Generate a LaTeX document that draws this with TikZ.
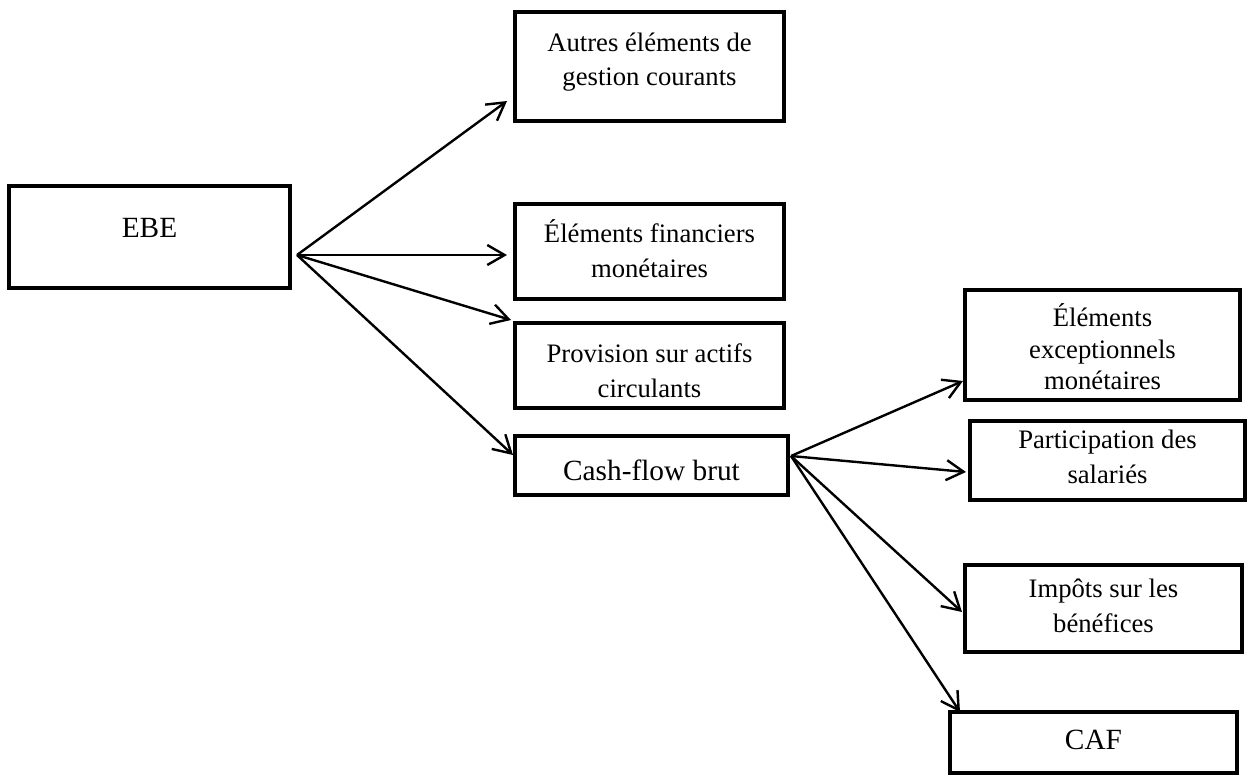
\documentclass[tikz,border=0pt]{standalone}
\usepackage{fontspec}
\setmainfont{Liberation Serif}
\usetikzlibrary{arrows.meta}
\begin{document}
\begin{tikzpicture}[x=0.75pt,y=-0.75pt,
  box/.style={draw, line width=3.4pt, inner sep=0pt, rectangle},
  big/.style={font=\fontsize{22}{26}\selectfont, align=center},
  small/.style={font=\fontsize{20}{26}\selectfont, align=center},
  tight/.style={font=\fontsize{20}{23.5}\selectfont, align=center},
  conn/.style={line width=1.8pt, -{Straight Barb[length=13pt,width=15pt]}}]
\useasboundingbox (0,0) rectangle (1253,776);
% boxes
\node[box,minimum width=210.75pt,minimum height=76.5pt,
  label={[big,yshift=6.75pt]center:EBE}] (ebe) at (149.5,237) {};
\node[box,minimum width=201.75pt,minimum height=81.75pt,
  label={[small,yshift=3.4pt]center:Autres éléments de\\gestion courants}] (autres) at (649.5,66.5) {};
\node[box,minimum width=201.75pt,minimum height=71.25pt,
  label={[small,yshift=1.9pt]center:Éléments financiers\\monétaires}] (fin) at (649.5,251.5) {};
\node[box,minimum width=201.75pt,minimum height=63.75pt,
  label={[small,yshift=-4pt]center:Provision sur actifs\\circulants}] (prov) at (649.5,365.5) {};
\node[box,minimum width=204.75pt,minimum height=44.25pt,
  label={[big,yshift=-3.4pt]center:Cash-flow brut}] (cf) at (651.5,465.5) {};
\node[box,minimum width=206.25pt,minimum height=82.5pt,
  label={[tight,yshift=-1.5pt]center:Éléments\\exceptionnels\\monétaires}] (exc) at (1102.5,345) {};
\node[box,minimum width=206.25pt,minimum height=59.25pt,
  label={[small,yshift=2.6pt]center:Participation des\\salariés}] (part) at (1107.5,460.5) {};
\node[box,minimum width=207.75pt,minimum height=65.25pt,
  label={[small,yshift=1.9pt]center:Impôts sur les\\bénéfices}] (imp) at (1103.5,608.5) {};
\node[box,minimum width=215.25pt,minimum height=45.75pt,
  label={[big,yshift=2pt]center:CAF}] (caf) at (1093.5,742.5) {};
% connector end points
\coordinate (ebeout) at (297,255);
\coordinate (cfout) at (791,456);
\coordinate (tautres) at (507,101);
\coordinate (tfin) at (507,255);
\coordinate (tprov) at (511,320);
\coordinate (tcf) at (513,455);
\coordinate (texc) at (963,381);
\coordinate (tpart) at (966,472);
\coordinate (timp) at (962,612);
\coordinate (tcaf) at (960,712);
% connectors
\draw[conn] (ebeout) -- (tautres);
\draw[conn] (ebeout) -- (tfin);
\draw[conn] (ebeout) -- (tprov);
\draw[conn] (ebeout) -- (tcf);
\draw[conn] (cfout) -- (texc);
\draw[conn] (cfout) -- (tpart);
\draw[conn] (cfout) -- (timp);
\draw[conn] (cfout) -- (tcaf);
\end{tikzpicture}
\end{document}
